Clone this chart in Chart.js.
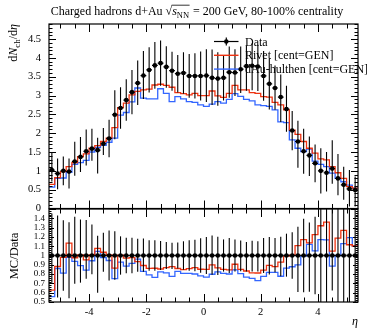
<!DOCTYPE html>
<html><head><meta charset="utf-8">
<script src="https://cdn.jsdelivr.net/npm/chart.js@4/dist/chart.umd.min.js"></script>
<style>
html,body{margin:0;padding:0;background:#fff;}
#wrap{position:relative;width:367px;height:330px;background:#fff;}
canvas{position:absolute;left:0;top:0;}
</style></head><body>
<div id="wrap"><canvas id="top" width="367" height="330"></canvas><canvas id="bot" width="367" height="330"></canvas></div>
<script>
// ---- data ----
const etaCenters = [-5.3,-5.1,-4.9,-4.7,-4.5,-4.3,-4.1,-3.9,-3.7,-3.5,-3.3,-3.1,-2.9,-2.7,-2.5,-2.3,-2.1,-1.9,-1.7,-1.5,-1.3,-1.1,-0.9,-0.7,-0.5,-0.3,-0.1,
  0.1,0.3,0.5,0.7,0.9,1.1,1.3,1.5,1.7,1.9,2.1,2.3,2.5,2.7,2.9,3.1,3.3,3.5,3.7,3.9,4.1,4.3,4.5,4.7,4.9,5.1,5.3];
const dataValues = [1.02,0.93,1.00,0.98,1.25,1.37,1.52,1.59,1.55,1.72,1.86,2.49,2.67,2.88,3.09,3.33,3.53,3.68,3.80,3.86,3.76,3.66,3.58,3.60,3.52,3.52,3.52,
  3.53,3.47,3.45,3.47,3.62,3.61,3.70,3.78,3.79,3.77,3.52,3.31,3.20,2.96,2.64,2.07,1.78,1.52,1.41,1.20,1.00,0.95,1.06,0.80,0.63,0.52,0.49];
const dataErrUp = [0.46,0.40,0.38,0.35,0.52,0.53,0.58,0.53,0.33,0.42,0.50,0.65,0.55,0.55,0.59,0.60,0.65,0.60,0.62,0.60,0.55,0.50,0.50,0.55,0.58,0.60,0.65,
  0.70,0.75,0.70,0.60,0.68,0.62,0.60,0.55,0.60,0.58,0.66,0.66,0.60,0.60,0.62,0.52,0.55,0.60,0.50,0.50,0.60,0.55,0.75,0.65,0.48,0.50,0.36];
const dataErrDown = [0.30,0.42,0.38,0.45,0.38,0.40,0.38,0.32,0.62,0.30,0.50,0.65,0.55,0.55,0.59,0.58,0.62,0.60,0.62,0.60,0.55,0.53,0.50,0.55,0.58,0.60,0.65,
  0.70,0.72,0.72,0.60,0.68,0.62,0.63,0.65,0.65,0.65,0.66,0.68,0.58,0.66,0.60,0.52,0.70,0.60,0.55,0.50,0.60,0.50,0.40,0.45,0.40,0.47,0.44];
const rivetValues = [0.64,0.82,0.98,1.11,1.22,1.38,1.45,1.60,1.67,1.78,1.87,2.15,2.68,2.80,3.02,3.11,3.15,3.17,3.28,3.30,3.27,3.22,3.08,3.05,3.02,3.06,3.00,
  3.00,3.12,2.99,2.95,3.06,3.27,3.15,3.15,3.08,3.06,2.97,2.96,2.82,2.75,2.62,2.08,1.97,1.78,1.60,1.47,1.32,1.29,1.11,0.95,0.80,0.58,0.54];
const hulthenValues = [0.57,0.80,0.81,0.96,1.17,1.22,1.28,1.50,1.62,1.68,1.76,1.87,2.48,2.55,2.83,3.20,2.93,2.91,2.91,3.18,3.06,2.84,2.97,2.91,2.84,2.82,2.75,
  2.71,2.77,2.84,2.80,2.90,3.05,2.98,2.90,2.86,2.75,2.73,2.71,2.62,2.30,2.28,1.82,1.60,1.51,1.58,1.26,1.17,1.11,0.94,0.80,0.71,0.62,0.54];
const topYTicks = [0,0.5,1,1.5,2,2.5,3,3.5,4,4.5];
const ratioYTicks = [0.5,0.6,0.7,0.8,0.9,1.0,1.1,1.2,1.3,1.4];
const xTicks = [-4,-2,0,2,4];
const seriesLabels = ['Data','Rivet [cent=GEN]','dAu-hulthen [cent=GEN]'];
const seriesColors = ['#000000','#ee3311','#3366ff'];
const titleParts = ['Charged hadrons d+Au ', 's', 'NN', ' = 200 GeV, 80-100% centrality'];

// ---- helpers ----
const FONT = "'Liberation Serif','DejaVu Serif',serif";
const binHalf = (etaCenters[1]-etaCenters[0])/2;
const xMin = etaCenters[0]-binHalf, xMax = etaCenters[etaCenters.length-1]+binHalf;
function stepPoints(vals){
  const pts = etaCenters.map((c,i)=>({x:c-binHalf, y:vals[i]}));
  pts.push({x:xMax, y:vals[vals.length-1]});
  return pts;
}
const rivetRatio = rivetValues.map((v,i)=>v/dataValues[i]);
const hulthenRatio = hulthenValues.map((v,i)=>v/dataValues[i]);
const ratioErrUp = dataErrUp.map((e,i)=>e/dataValues[i]);
const ratioErrDown = dataErrDown.map((e,i)=>e/dataValues[i]);

function drawErrorBars(chart, vals, up, down, hw){
  const {ctx, chartArea:a, scales:{x,y}} = chart;
  ctx.save();
  ctx.beginPath(); ctx.rect(a.left,a.top,a.right-a.left,a.bottom-a.top); ctx.clip();
  ctx.strokeStyle='#000';
  etaCenters.forEach((c,i)=>{
    const px = x.getPixelForValue(c);
    ctx.lineWidth=1.1;
    ctx.beginPath();
    ctx.moveTo(px, y.getPixelForValue(vals[i]+up[i]));
    ctx.lineTo(px, y.getPixelForValue(vals[i]-down[i]));
    ctx.stroke();
    ctx.lineWidth=hw;
    const py = y.getPixelForValue(vals[i]);
    ctx.beginPath();
    ctx.moveTo(x.getPixelForValue(c-binHalf), py);
    ctx.lineTo(x.getPixelForValue(c+binHalf), py);
    ctx.stroke();
  });
  ctx.restore();
}
function drawFrame(chart, yMajStep, yMinStep, yMajLen, yMinLen){
  const {ctx, chartArea:a, scales:{x,y}} = chart;
  ctx.save();
  ctx.strokeStyle='#000'; ctx.lineWidth=1;
  for(let v=Math.ceil(xMin*2)/2; v<=xMax+1e-9; v+=0.5){
    const major = xTicks.some(t=>Math.abs(t-v)<1e-6);
    const len = major?8:4.5;
    const px = Math.round(x.getPixelForValue(v))+0.5;
    ctx.beginPath();
    ctx.moveTo(px,a.bottom); ctx.lineTo(px,a.bottom-len);
    ctx.moveTo(px,a.top); ctx.lineTo(px,a.top+len);
    ctx.stroke();
  }
  const n = Math.round((y.max-y.min)/yMinStep);
  for(let k=0;k<=n;k++){
    const v = y.min + k*yMinStep;
    const major = Math.abs(v/yMajStep - Math.round(v/yMajStep))<1e-6;
    const len = major?yMajLen:yMinLen;
    const py = Math.round(y.getPixelForValue(v))+0.5;
    ctx.beginPath();
    ctx.moveTo(a.left,py); ctx.lineTo(a.left+len,py);
    ctx.moveTo(a.right,py); ctx.lineTo(a.right-len,py);
    ctx.stroke();
  }
  ctx.lineWidth=1.2;
  ctx.strokeRect(a.left,a.top,a.right-a.left,a.bottom-a.top);
  ctx.restore();
}

const topPlugin = {
  id:'topDeco',
  afterDatasetsDraw(chart){
    drawErrorBars(chart, dataValues, dataErrUp, dataErrDown, 1.2);
  },
  afterDraw(chart){
    const ctx = chart.ctx;
    drawFrame(chart, 0.5, 0.1, 7, 3.5);
    ctx.save();
    ctx.fillStyle='#000'; ctx.textBaseline='alphabetic';
    const f='12px '+FONT, fi='italic 12px '+FONT, fs='8.5px '+FONT;
    ctx.font=f; const w0=ctx.measureText(titleParts[0]).width, wr=ctx.measureText('√').width, w3=ctx.measureText(titleParts[3]).width;
    ctx.font=fi; const w1=ctx.measureText(titleParts[1]).width;
    ctx.font=fs; const w2=ctx.measureText(titleParts[2]).width;
    const total=w0+wr+w1+w2+1+w3;
    let tx=197-total/2; const ty=15;
    ctx.font=f; ctx.fillText(titleParts[0],tx,ty); tx+=w0;
    ctx.fillText('√',tx,ty); tx+=wr;
    const ox=tx;
    ctx.font=fi; ctx.fillText(titleParts[1],tx,ty); tx+=w1;
    ctx.font=fs; ctx.fillText(titleParts[2],tx,ty+2.5); tx+=w2+1;
    ctx.strokeStyle='#000'; ctx.lineWidth=0.8;
    ctx.beginPath(); ctx.moveTo(ox-0.5,ty-9.8); ctx.lineTo(tx-0.5,ty-9.8); ctx.stroke();
    ctx.font=f; ctx.fillText(titleParts[3],tx,ty);
    // y label
    ctx.save();
    ctx.translate(17,24); ctx.rotate(-Math.PI/2);
    const parts=[['d',f,0],['N',fi,0],['ch','9px '+FONT,2.5],['/d',f,0],['η',fi,0]];
    let tw=0; parts.forEach(p=>{ctx.font=p[1]; tw+=ctx.measureText(p[0]).width;});
    let lx=-tw;
    parts.forEach(p=>{ctx.font=p[1]; ctx.fillText(p[0],lx,p[2]); lx+=ctx.measureText(p[0]).width;});
    ctx.restore();
    // legend
    const rows=[41.5,55.3,69.1];
    ctx.font='12px '+FONT;
    rows.forEach((ry,i)=>{
      ctx.strokeStyle=seriesColors[i]; ctx.lineWidth=i===0?1.2:1.4;
      ctx.beginPath(); ctx.moveTo(214,ry); ctx.lineTo(238.5,ry); ctx.stroke();
      if(i===0){
        ctx.beginPath(); ctx.moveTo(226.3,ry-4); ctx.lineTo(226.3,ry+4); ctx.stroke();
        ctx.beginPath(); ctx.arc(226.3,ry,2.3,0,Math.PI*2); ctx.fillStyle='#000'; ctx.fill();
      }
      ctx.fillStyle='#000';
      ctx.fillText(seriesLabels[i],245,ry+4);
    });
    ctx.restore();
  }
};

const botPlugin = {
  id:'botDeco',
  afterDatasetsDraw(chart){
    drawErrorBars(chart, dataValues.map(()=>1), ratioErrUp, ratioErrDown, 1.6);
  },
  afterDraw(chart){
    const ctx=chart.ctx;
    drawFrame(chart, 0.1, 0.02, 5, 2.5);
    ctx.save();
    ctx.fillStyle='#000';
    ctx.translate(18,256); ctx.rotate(-Math.PI/2);
    ctx.font='12.5px '+FONT; ctx.textAlign='center';
    ctx.fillText('MC/Data',0,0);
    ctx.restore();
    ctx.save();
    ctx.fillStyle='#000'; ctx.font='italic 12px '+FONT; ctx.textAlign='right';
    ctx.fillText('η',358,325);
    ctx.restore();
  }
};

const commonLine = {pointRadius:0, fill:false, stepped:true, borderWidth:1.3, showLine:true};

new Chart(document.getElementById('top'), {
  type:'line',
  data:{datasets:[
    {label:seriesLabels[0], type:'scatter', data:etaCenters.map((c,i)=>({x:c,y:dataValues[i]})), pointRadius:2.3, pointBackgroundColor:'#000', pointBorderWidth:0, showLine:false},
    {label:seriesLabels[1], data:stepPoints(rivetValues), borderColor:seriesColors[1], ...commonLine},
    {label:seriesLabels[2], data:stepPoints(hulthenValues), borderColor:seriesColors[2], ...commonLine}
  ]},
  options:{
    responsive:false, animation:false, devicePixelRatio:1,
    layout:{padding:{top:24,right:9,bottom:121.5,left:0}},
    plugins:{legend:{display:false},tooltip:{enabled:false}},
    scales:{
      x:{type:'linear',min:xMin,max:xMax,display:false},
      y:{type:'linear',min:0,max:4.9,
         afterFit(s){s.width=49;},
         afterBuildTicks(s){s.ticks=topYTicks.map(v=>({value:v}));},
         grid:{display:false,drawTicks:false}, border:{display:false},
         ticks:{padding:8,autoSkip:false,color:'#000',font:{family:FONT,size:10.5},callback:v=>String(Number(v.toFixed(1)))}}
    }
  },
  plugins:[topPlugin]
});

new Chart(document.getElementById('bot'), {
  type:'line',
  data:{datasets:[
    {label:seriesLabels[0], type:'scatter', data:etaCenters.map(c=>({x:c,y:1})), pointRadius:2.3, pointBackgroundColor:'#000', pointBorderWidth:0, showLine:false},
    {label:seriesLabels[1], data:stepPoints(rivetRatio), borderColor:seriesColors[1], ...commonLine},
    {label:seriesLabels[2], data:stepPoints(hulthenRatio), borderColor:seriesColors[2], ...commonLine}
  ]},
  options:{
    responsive:false, animation:false, devicePixelRatio:1,
    layout:{padding:{top:209,right:9,bottom:0,left:0}},
    plugins:{legend:{display:false},tooltip:{enabled:false}},
    scales:{
      x:{type:'linear',min:xMin,max:xMax,
         afterFit(s){s.height=28;},
         afterBuildTicks(s){s.ticks=xTicks.map(v=>({value:v}));},
         grid:{display:false,drawTicks:false}, border:{display:false},
         ticks:{padding:4,color:'#000',autoSkip:false,maxRotation:0,font:{family:FONT,size:10.5},callback:v=>String(v)}},
      y:{type:'linear',min:0.5,max:1.5,
         afterFit(s){s.width=49;},
         afterBuildTicks(s){s.ticks=ratioYTicks.map(v=>({value:v}));},
         grid:{display:false,drawTicks:false}, border:{display:false},
         ticks:{padding:4,autoSkip:false,color:'#000',font:{family:FONT,size:9},callback:v=>String(Number(v.toFixed(1)))}}
    }
  },
  plugins:[botPlugin]
});
</script>
</body></html>
